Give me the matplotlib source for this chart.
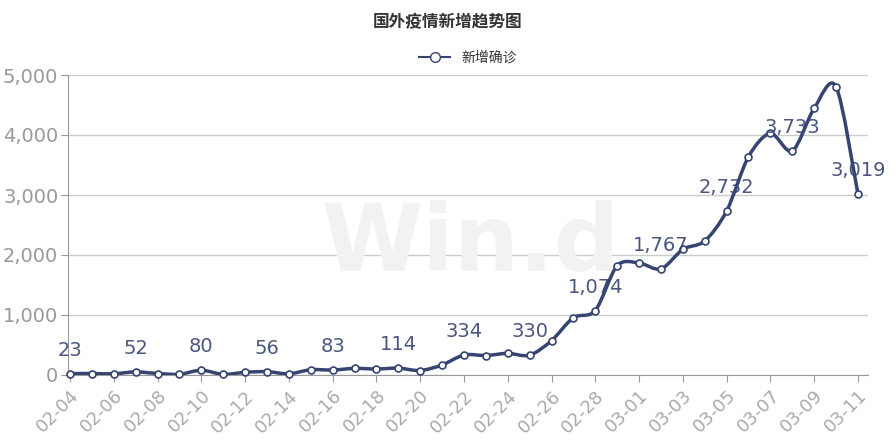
import matplotlib
matplotlib.use("Agg")
import matplotlib.pyplot as plt
from matplotlib.path import Path
from matplotlib.patches import PathPatch
import numpy as np
import datetime as dt

plt.rcParams['font.family'] = ['Noto Sans CJK SC', 'DejaVu Sans']

start = dt.date(2020, 2, 4)
dates = [(start + dt.timedelta(days=i)).strftime('%m-%d') for i in range(37)]
values = [23, 25, 20, 52, 25, 12, 80, 10, 45, 56, 20, 88, 83, 110, 100, 114, 75, 167,
          334, 325, 361, 330, 572, 956, 1074, 1822, 1867, 1767, 2094, 2233, 2732,
          3639, 4028, 3733, 4444, 4806, 3019]
color = '#364472'

fig = plt.figure(figsize=(8.96, 4.48), dpi=100)
ax = fig.add_axes([68/896, 1-375/448, 800/896, 300/448])
x = np.arange(len(values))
y = np.array(values, float)

t = 0.15
verts = [(x[0], y[0])]
codes = [Path.MOVETO]
for i in range(len(x)-1):
    p0 = (x[max(i-1, 0)], y[max(i-1, 0)])
    p1 = (x[i], y[i]); p2 = (x[i+1], y[i+1])
    p3 = (x[min(i+2, len(x)-1)], y[min(i+2, len(x)-1)])
    c1 = (p1[0] + t*(p2[0]-p0[0]), p1[1] + t*(p2[1]-p0[1]))
    c2 = (p2[0] - t*(p3[0]-p1[0]), p2[1] - t*(p3[1]-p1[1]))
    verts += [c1, c2, p2]
    codes += [Path.CURVE4]*3
ax.add_patch(PathPatch(Path(verts, codes), fill=False, edgecolor=color, lw=2.5, zorder=3))
ax.plot(x, y, 'o', ms=5, mfc='white', mec=color, mew=1.2, zorder=4, clip_on=False)

for i in range(0, len(values), 3):
    ax.annotate(f'{values[i]:,}', (x[i], y[i]), xytext=(0, 10), textcoords='offset points',
                ha='center', va='bottom', fontsize=14, color=color, zorder=5,
                family=['DejaVu Sans'], alpha=0.9)

ax.set_xlim(-0.09, 36.46)
ax.set_ylim(0, 5000)
ax.set_yticks(range(0, 5001, 1000))
ax.set_yticklabels([f'{v:,}' for v in range(0, 5001, 1000)], fontsize=14, color='#999999',
                   family=['DejaVu Sans'])
ax.set_xticks(x[::2])
ax.set_xticklabels(dates[::2], rotation=45, ha='right', rotation_mode='anchor',
                   fontsize=13, color='#aaaaaa', family=['DejaVu Sans'])
ax.grid(axis='y', color='#cccccc', lw=1)
ax.set_axisbelow(True)
for s in ['top', 'right']:
    ax.spines[s].set_visible(False)
ax.spines['left'].set_color('#999999')
ax.spines['bottom'].set_color('#999999')
ax.tick_params(axis='y', length=5, color='#999999', pad=2)
ax.tick_params(axis='x', length=5, color='#999999')

fig.text(470/896, 1-245/448, 'Win.d', fontsize=66, fontweight='bold', color='#f2f2f2',
         ha='center', va='center', zorder=0, family=['DejaVu Sans'])
fig.text(0.5, 1-22/448, '国外疫情新增趋势图', fontsize=12, fontweight='bold',
         ha='center', va='center', color='#333333')
ax.plot([], [], '-o', color=color, mfc='white', mec=color, lw=1.5, ms=7, label='新增确诊')
ax.legend(loc='center', bbox_to_anchor=(0.5, (375-58)/300), frameon=False,
          fontsize=10, labelcolor='#333333', handlelength=2.2)

fig.savefig('out.png', dpi=100)
